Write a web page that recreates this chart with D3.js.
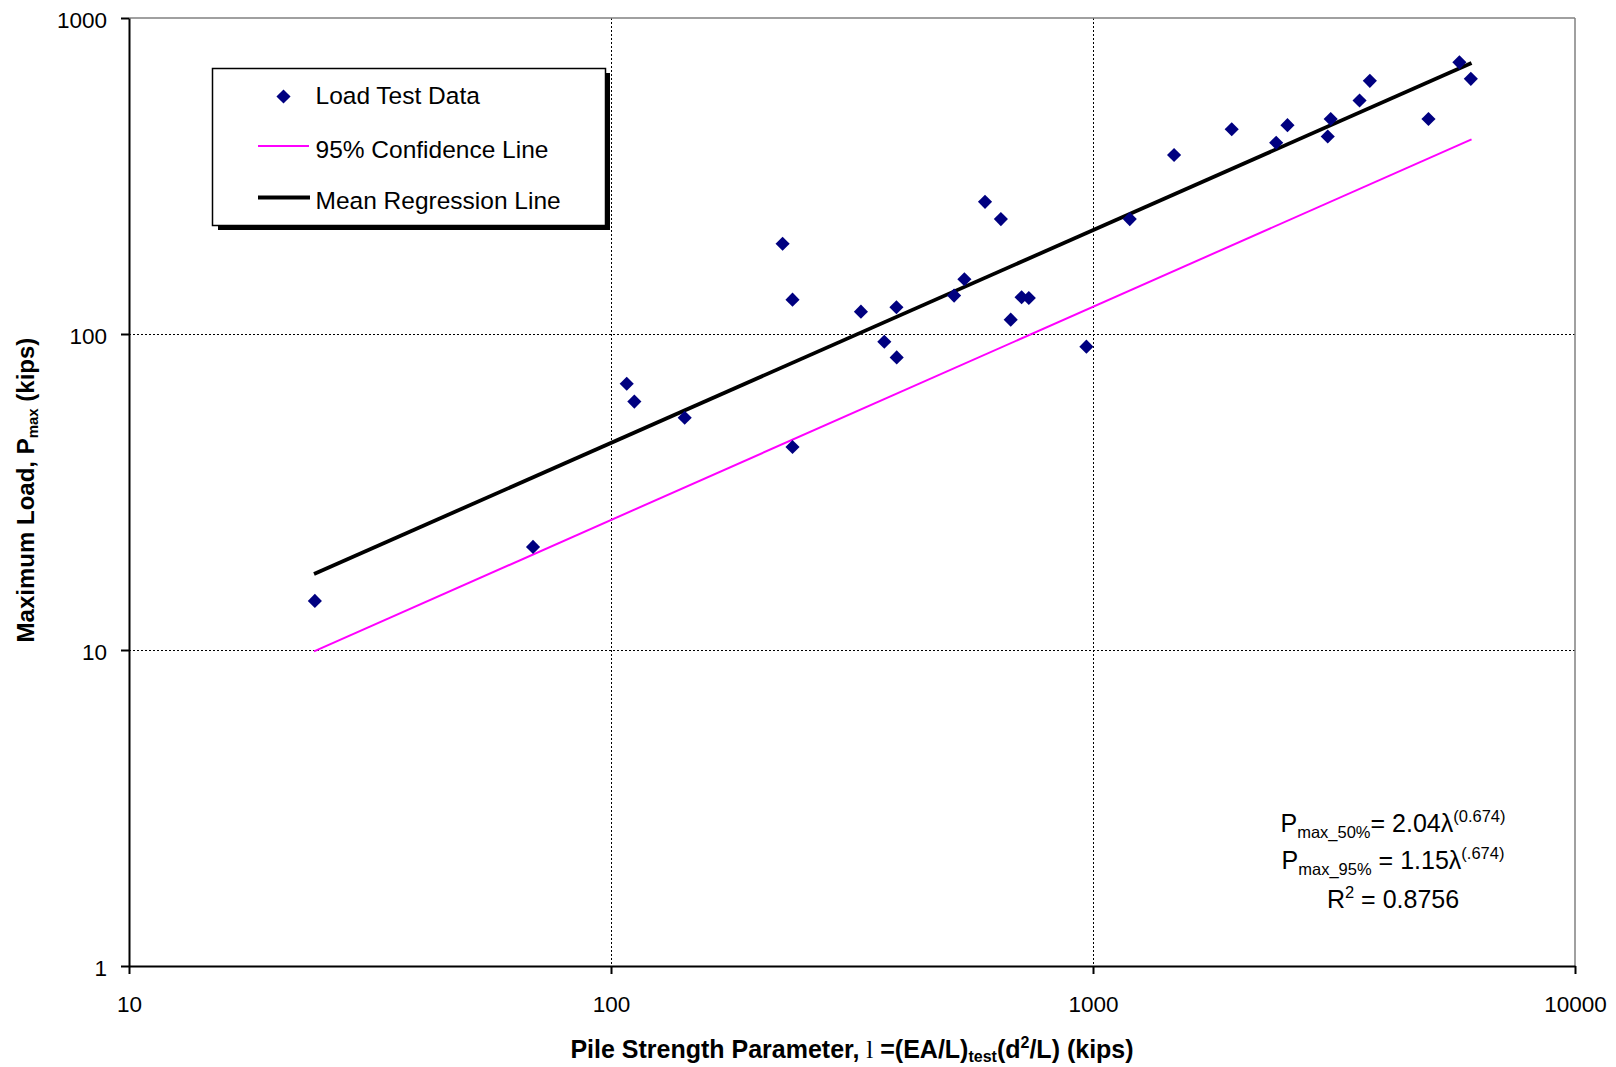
<!DOCTYPE html>
<html>
<head>
<meta charset="utf-8">
<script src="https://cdn.jsdelivr.net/npm/d3@7"></script>
<style>
  html, body { margin: 0; padding: 0; background: #fff; }
  svg { display: block; font-family: "Liberation Sans", Arial, sans-serif; }
</style>
</head>
<body>
<svg id="chart" width="1616" height="1067"></svg>
<script>
// ---- Data ----
const loadTestLambda = [24.3, 68.9, 107.8, 111.8, 142.2, 227, 238, 238, 330, 369, 391.5, 391, 515, 541, 597, 644, 675, 711, 736, 969, 1192, 1473, 1940, 2399, 2532, 3069, 3113, 3573, 3753, 4966, 5757, 6080];
const loadTestPmax   = [14.3, 21.2, 69.6, 61.1, 54.3, 193, 128.4, 43.9, 117.7, 94.5, 84.3, 121.5, 132.3, 149, 262, 231, 111, 130.7, 130, 91.2, 231, 368.5, 444.6, 403, 458, 421.7, 479, 548, 632.6, 479, 724, 642];
const meanLineLambda = [24.2, 6100];
const meanLinePmax   = [17.4, 720];
const conf95Lambda   = [24.2, 6100];
const conf95Pmax     = [9.9, 413];
const xTicks = [10, 100, 1000, 10000];
const yTicks = [1, 10, 100, 1000];
const legendLabels = ["Load Test Data", "95% Confidence Line", "Mean Regression Line"];

// ---- Layout ----
const svg = d3.select("#chart");
const L = 129, R = 1575, T = 18, B = 966;
const x = d3.scaleLog().domain([10, 10000]).range([L, R]);
const y = d3.scaleLog().domain([1, 1000]).range([B, T]);

// gridlines (dotted)
const grid = svg.append("g").attr("shape-rendering", "crispEdges");
grid.selectAll("line.vg").data([100, 1000]).enter().append("line")
  .attr("x1", d => x(d) + 0.5).attr("x2", d => x(d) + 0.5).attr("y1", T).attr("y2", B)
  .attr("stroke", "#000").attr("stroke-width", 1).attr("stroke-dasharray", "2,2");
grid.selectAll("line.hg").data([10, 100]).enter().append("line")
  .attr("x1", L).attr("x2", R).attr("y1", d => y(d) + 0.5).attr("y2", d => y(d) + 0.5)
  .attr("stroke", "#000").attr("stroke-width", 1).attr("stroke-dasharray", "2,2");

// top and right border (gray)
svg.append("line").attr("x1", L).attr("x2", R).attr("y1", T).attr("y2", T)
  .attr("stroke", "#808080").attr("stroke-width", 1.5);
svg.append("line").attr("x1", R).attr("x2", R).attr("y1", T).attr("y2", B)
  .attr("stroke", "#808080").attr("stroke-width", 1.5);

// axes
const xAxis = svg.append("g").attr("transform", `translate(0,${B})`)
  .call(d3.axisBottom(x).tickValues(xTicks).tickFormat(d3.format("d")).tickSize(8).tickSizeOuter(0));
xAxis.select(".domain").attr("stroke", "#000").attr("stroke-width", 2);
xAxis.selectAll(".tick line").attr("stroke", "#000").attr("stroke-width", 2);
xAxis.selectAll(".tick text").attr("y", 46).attr("dy", 0)
  .attr("font-size", "22.5px").attr("fill", "#000")
  .attr("font-family", "'Liberation Sans', Arial, sans-serif");

const yAxis = svg.append("g").attr("transform", `translate(${L},0)`)
  .call(d3.axisLeft(y).tickValues(yTicks).tickFormat(d3.format("d")).tickSize(8).tickSizeOuter(0));
yAxis.select(".domain").attr("stroke", "#000").attr("stroke-width", 2);
yAxis.selectAll(".tick line").attr("stroke", "#000").attr("stroke-width", 2);
yAxis.selectAll(".tick text").attr("x", -22).attr("dy", "0.4em")
  .attr("font-size", "22.5px").attr("fill", "#000")
  .attr("font-family", "'Liberation Sans', Arial, sans-serif");

// lines
const lineGen = d3.line().x(d => x(d[0])).y(d => y(d[1]));
svg.append("path").datum(d3.zip(conf95Lambda, conf95Pmax))
  .attr("d", lineGen).attr("fill", "none").attr("stroke", "#FF00FF").attr("stroke-width", 2);
svg.append("path").datum(d3.zip(meanLineLambda, meanLinePmax))
  .attr("d", lineGen).attr("fill", "none").attr("stroke", "#000").attr("stroke-width", 3.8);

// points (diamonds)
const diamond = d3.symbol().type(d3.symbolSquare).size(100);
svg.append("g").selectAll("path").data(d3.zip(loadTestLambda, loadTestPmax)).enter().append("path")
  .attr("d", diamond)
  .attr("transform", d => `translate(${x(d[0])},${y(d[1])}) rotate(45)`)
  .attr("fill", "#000080");

// legend
const lg = svg.append("g");
lg.append("rect").attr("x", 218).attr("y", 73).attr("width", 392).attr("height", 157).attr("fill", "#000");
lg.append("rect").attr("x", 212.5).attr("y", 68.5).attr("width", 393).attr("height", 157)
  .attr("fill", "#fff").attr("stroke", "#000").attr("stroke-width", 1.5);
lg.append("path").attr("d", diamond).attr("transform", "translate(283.5,96.5) rotate(45)").attr("fill", "#000080");
lg.append("line").attr("x1", 258).attr("x2", 309).attr("y1", 146).attr("y2", 146)
  .attr("stroke", "#FF00FF").attr("stroke-width", 2);
lg.append("line").attr("x1", 258).attr("x2", 310).attr("y1", 197.5).attr("y2", 197.5)
  .attr("stroke", "#000").attr("stroke-width", 3.8);
lg.selectAll("text").data(legendLabels).enter().append("text")
  .attr("x", 315.5).attr("y", (d, i) => [104, 157.5, 209][i])
  .attr("font-size", "24.5px").attr("fill", "#000").text(d => d);

// annotation
const ann = svg.append("g").attr("fill", "#000");
function eqLine(yb, parts) {
  const t = ann.append("text").attr("x", 1393).attr("y", yb).attr("text-anchor", "middle").attr("font-size", "25px");
  parts.forEach(p => {
    t.append("tspan").attr("dy", p.dy || 0).attr("font-size", p.fs || "25px").text(p.t);
  });
}
eqLine(832, [{t: "P"}, {t: "max_50%", fs: "16.5px", dy: 6}, {t: "= 2.04λ", dy: -6}, {t: "(0.674)", fs: "16.5px", dy: -10}]);
eqLine(869, [{t: "P"}, {t: "max_95%", fs: "16.5px", dy: 6}, {t: " = 1.15λ", dy: -6}, {t: "(.674)", fs: "16.5px", dy: -10}]);
eqLine(908, [{t: "R"}, {t: "2", fs: "16.5px", dy: -10}, {t: " = 0.8756", dy: 10}]);

// x-axis title
const xt = svg.append("text").attr("x", 852).attr("y", 1058).attr("text-anchor", "middle")
  .attr("font-size", "25px").attr("font-weight", "bold").attr("fill", "#000");
xt.append("tspan").text("Pile Strength Parameter, ");
xt.append("tspan").attr("font-family", "'Liberation Serif', serif").attr("font-weight", "normal").text("l");
xt.append("tspan").text("  =(EA/L)");
xt.append("tspan").attr("font-size", "16px").attr("dy", 4).text("test");
xt.append("tspan").attr("dy", -4).text("(d");
xt.append("tspan").attr("font-size", "16px").attr("dy", -10).text("2");
xt.append("tspan").attr("dy", 10).text("/L) (kips)");

// y-axis title
const yt = svg.append("text").attr("transform", "translate(34,490) rotate(-90)").attr("text-anchor", "middle")
  .attr("font-size", "24px").attr("font-weight", "bold").attr("fill", "#000");
yt.append("tspan").text("Maximum Load, P");
yt.append("tspan").attr("font-size", "15px").attr("dy", 4).text("max");
yt.append("tspan").attr("dy", -4).text(" (kips)");
</script>
</body>
</html>
